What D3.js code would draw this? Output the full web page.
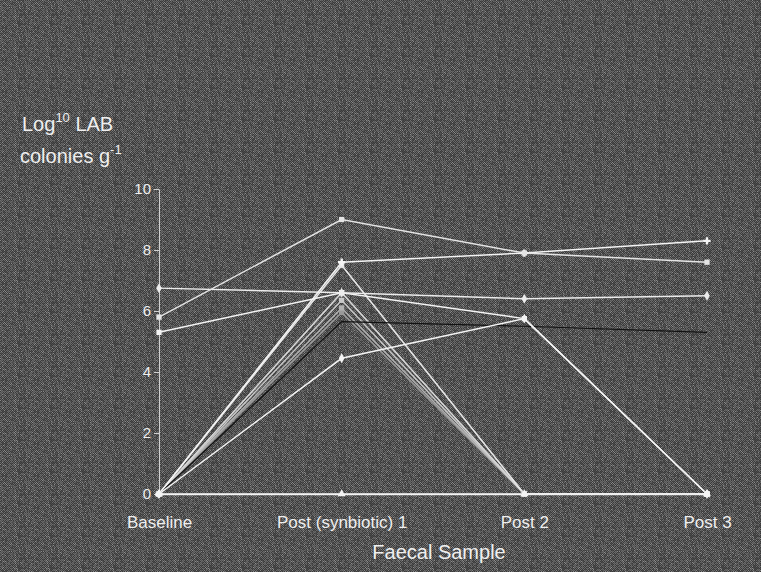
<!DOCTYPE html>
<html>
<head>
<meta charset="utf-8">
<script src="https://cdn.jsdelivr.net/npm/d3@7"></script>
<style>
  html, body { margin: 0; padding: 0; background: #4a4a4a; }
  svg { display: block; font-family: "Liberation Sans", Arial, sans-serif; }
</style>
</head>
<body>
<script>
// samples on the x axis
const samples = ["Baseline", "Post (synbiotic) 1", "Post 2", "Post 3"];
const yTicks = [0, 2, 4, 6, 8, 10];

// one array per subject, log10 LAB colonies per gram
const s1  = [5.8, 9.0, 7.9, 7.6];
const s2  = [0, 7.6, 7.9, 8.3];
const s3  = [6.75, 6.6, 6.4, 6.5];
const s4  = [5.3, 6.6, 5.75, 0];
const s5  = [0, 4.45, 5.75, 0];
const s6  = [0, 5.65, 5.5, 5.3];
const s7  = [0, 7.5, 0, 0];
const s8  = [0, 6.6, 0, 0];
const s9  = [0, 6.35, 0, 0];
const s10 = [0, 6.1, 0, 0];
const s11 = [0, 5.95, 0, 0];
const s12 = [0, 0, 0, 0];

const series = [
  {vals: s11, color: "#9a9a9a", sym: d3.symbolSquare},
  {vals: s10, color: "#b0b0b0", sym: d3.symbolSquare},
  {vals: s9,  color: "#c8c8c8", sym: d3.symbolSquare},
  {vals: s8,  color: "#d8d8d8", sym: d3.symbolSquare},
  {vals: s7,  color: "#e8e8e8", sym: d3.symbolSquare},
  {vals: s6,  color: "#111111", sym: null},
  {vals: s5,  color: "#f4f4f4", sym: d3.symbolDiamond},
  {vals: s4,  color: "#f4f4f4", sym: d3.symbolSquare},
  {vals: s3,  color: "#ececec", sym: d3.symbolDiamond},
  {vals: s2,  color: "#f4f4f4", sym: d3.symbolCross},
  {vals: s1,  color: "#e4e4e4", sym: d3.symbolSquare},
  {vals: s12, color: "#f4f4f4", sym: d3.symbolTriangle}
];

const W = 761, H = 572;
const svg = d3.select("body").append("svg").attr("width", W).attr("height", H);

// halftone-like background: 32x32 tile, checker with hashed grey levels
const defs = svg.append("defs");
const N = 32;
const pat = defs.append("pattern").attr("id", "ht")
  .attr("width", N).attr("height", N).attr("patternUnits", "userSpaceOnUse");
pat.append("rect").attr("width", N).attr("height", N).attr("fill", "#3a3a3a");
const hash = (i, j) => { const v = Math.sin(i * 12.9898 + j * 78.233) * 43758.5453; return v - Math.floor(v); };
for (let i = 0; i < N; i++) {
  for (let j = 0; j < N; j++) {
    const h = hash(i, j);
    let c;
    if ((i + j) % 2 === 0) c = h < 0.6 ? "#6a6a6a" : (h < 0.85 ? "#4c4c4c" : "#8a8a8a");
    else c = h < 0.75 ? null : "#555";
    if (c) pat.append("rect").attr("x", i).attr("y", j).attr("width", 1).attr("height", 1).attr("fill", c);
  }
}
svg.append("rect").attr("width", W).attr("height", H).attr("fill", "url(#ht)");

const x = d3.scalePoint().domain(samples).range([159, 707]);
const y = d3.scaleLinear().domain([0, 10]).range([494, 189]);

const fg = "#efefef";

// y axis
const gy = svg.append("g").attr("transform", "translate(159,0)")
  .call(d3.axisLeft(y).tickValues(yTicks).tickSize(5).tickPadding(3).tickSizeOuter(0));
gy.select(".domain").attr("stroke", "#cfcfcf").attr("stroke-width", 1);
gy.selectAll(".tick line").attr("stroke", "#cfcfcf");
gy.selectAll(".tick text").attr("fill", fg).attr("font-size", 15).attr("font-family", "Liberation Sans, Arial, sans-serif");

// x axis
const gx = svg.append("g").attr("transform", "translate(0,494)")
  .call(d3.axisBottom(x).tickSize(0).tickPadding(22).tickSizeOuter(0));
gx.select(".domain").attr("stroke", fg).attr("stroke-width", 1.5);
gx.selectAll(".tick text").attr("fill", fg).attr("font-size", 17).attr("font-family", "Liberation Sans, Arial, sans-serif");

// lines
const line = d3.line().x((d, i) => x(samples[i])).y(d => y(d));
svg.append("g").selectAll("path").data(series).join("path")
  .attr("d", d => line(d.vals))
  .attr("fill", "none")
  .attr("stroke", d => d.color)
  .attr("stroke-width", d => d.color === "#111111" ? 1.2 : 1.5);

// markers
series.filter(s => s.sym).forEach(s => {
  svg.append("g").selectAll("path").data(s.vals).join("path")
    .attr("transform", (d, i) => `translate(${x(samples[i])},${y(d)})`)
    .attr("d", d3.symbol().type(s.sym).size(s.sym === d3.symbolCross ? 30 : 28))
    .attr("fill", s.color);
});

// y axis title
const t1 = svg.append("text").attr("x", 22).attr("y", 131).attr("fill", fg).attr("font-size", 20);
t1.append("tspan").text("Log");
t1.append("tspan").text("10").attr("font-size", 13).attr("dy", -9);
t1.append("tspan").text(" LAB").attr("dy", 9);
const t2 = svg.append("text").attr("x", 20).attr("y", 163).attr("fill", fg).attr("font-size", 20);
t2.append("tspan").text("colonies g");
t2.append("tspan").text("-1").attr("font-size", 13).attr("dy", -9);

// x axis title
svg.append("text").attr("x", 439).attr("y", 559).attr("text-anchor", "middle")
  .attr("fill", fg).attr("font-size", 20).text("Faecal Sample");
</script>
</body>
</html>
